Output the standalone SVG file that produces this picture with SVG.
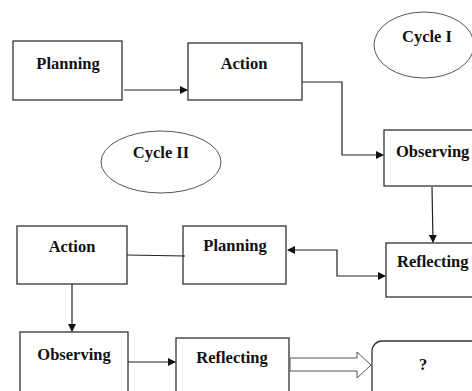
<svg xmlns="http://www.w3.org/2000/svg" width="472" height="391" viewBox="0 0 472 391">
<style>
.box{fill:#fff;stroke:#333;stroke-width:1.3}
.ell{fill:#fff;stroke:#555;stroke-width:1}
.t{font-family:"Liberation Serif",serif;font-weight:bold;font-size:16.5px;fill:#111}
.c{fill:none;stroke:#222;stroke-width:1.2}
</style>
<defs>
<marker id="ah" markerWidth="8" markerHeight="8" refX="7" refY="4" orient="auto-start-reverse" markerUnits="userSpaceOnUse">
<path d="M0,0 L8,4 L0,8 Z" fill="#111"/>
</marker>
</defs>
<rect width="472" height="391" fill="#fff"/>
<g id="cycle1"><ellipse class="ell" cx="424" cy="45" rx="50" ry="33"/><text class="t" x="427" y="42" text-anchor="middle">Cycle I</text></g>
<g id="cycle2"><ellipse class="ell" cx="161" cy="162" rx="60" ry="31"/><text class="t" x="161" y="158" text-anchor="middle">Cycle II</text></g>
<g id="planning1"><rect class="box" x="13" y="41" width="109" height="59"/><text class="t" x="68" y="69" text-anchor="middle">Planning</text></g>
<g id="action1"><rect class="box" x="188" y="43" width="114" height="57"/><text class="t" x="244" y="69" text-anchor="middle">Action</text></g>
<g id="observing1"><rect class="box" x="384" y="130" width="100" height="56"/><text class="t" x="396" y="157">Observing</text></g>
<g id="reflecting1"><rect class="box" x="386" y="243" width="100" height="54"/><text class="t" x="397" y="267">Reflecting</text></g>
<g id="action2"><rect class="box" x="17" y="226" width="110" height="58"/><text class="t" x="72" y="252" text-anchor="middle">Action</text></g>
<g id="planning2"><rect class="box" x="183" y="226" width="103" height="58"/><text class="t" x="235" y="251" text-anchor="middle">Planning</text></g>
<g id="observing2"><rect class="box" x="20" y="332" width="108" height="70"/><text class="t" x="74" y="360" text-anchor="middle">Observing</text></g>
<g id="reflecting2"><rect class="box" x="176" y="338" width="113" height="64"/><text class="t" x="232" y="363" text-anchor="middle">Reflecting</text></g>
<g id="result"><rect class="box" x="372" y="341" width="120" height="70" rx="10"/><text class="t" x="423" y="370" text-anchor="middle">?</text></g>
<g id="connectors">
<path class="c" d="M124,90 H187" marker-end="url(#ah)"/>
<path class="c" d="M302,82 H342 V155 H383" marker-end="url(#ah)"/>
<path class="c" d="M432,187 L433,242" marker-end="url(#ah)"/>
<path class="c" d="M288,250 H337 V276 H385" marker-start="url(#ah)" marker-end="url(#ah)"/>
<path class="c" d="M127,255 L185,256"/>
<path class="c" d="M72,284 V331" marker-end="url(#ah)"/>
<path class="c" d="M128,362 H175" marker-end="url(#ah)"/>
<path d="M290,358 H357 V352 L371,365 L357,378 V371 H290 Z" fill="#fff" stroke="#555" stroke-width="1"/>
</g>
</svg>
